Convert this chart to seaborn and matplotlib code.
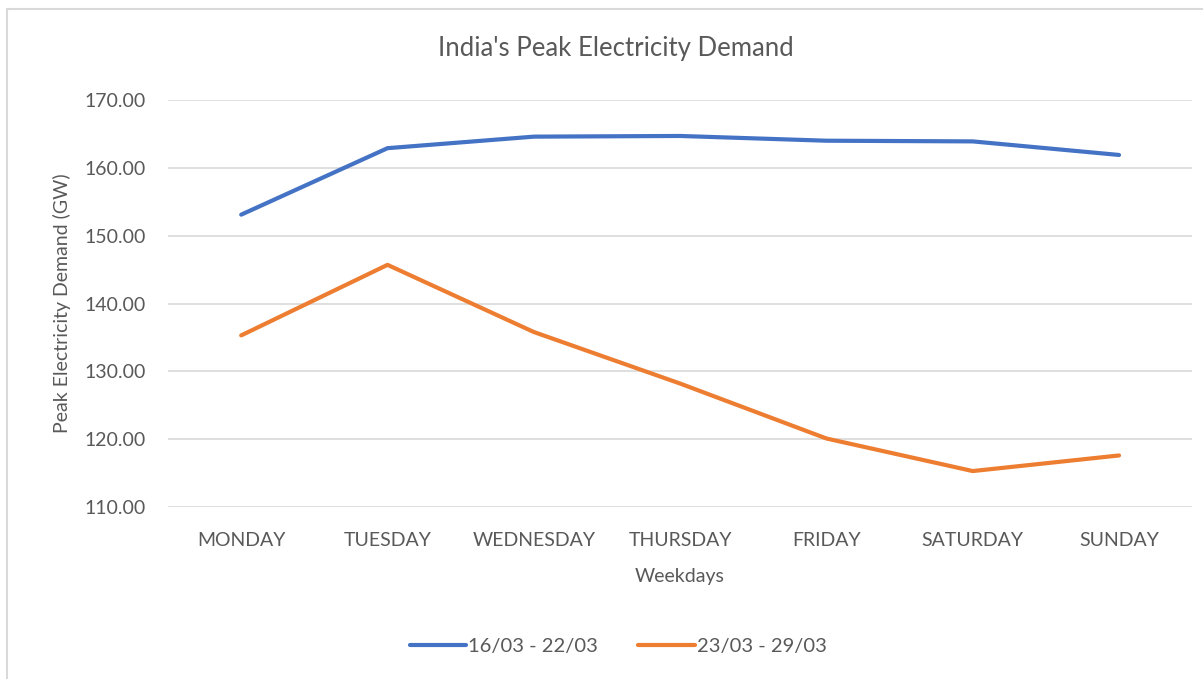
import matplotlib.pyplot as plt
import seaborn as sns
import pandas as pd
from matplotlib.patches import Rectangle

# Data
weekdays = ['MONDAY', 'TUESDAY', 'WEDNESDAY', 'THURSDAY', 'FRIDAY', 'SATURDAY', 'SUNDAY']
week_1 = [153.1, 162.9, 164.6, 164.7, 164.0, 163.9, 161.9]
week_2 = [135.3, 145.7, 135.8, 128.2, 120.1, 115.3, 117.6]
series_names = ['16/03 - 22/03', '23/03 - 29/03']
y_ticks = [110, 120, 130, 140, 150, 160, 170]

df = pd.DataFrame({
    'Weekdays': weekdays * 2,
    'Demand': week_1 + week_2,
    'Period': [series_names[0]] * len(weekdays) + [series_names[1]] * len(weekdays),
})

sns.set_style('white')
plt.rcParams['font.family'] = ['Lato', 'DejaVu Sans']
text_color = '#595959'
colors = ['#4472C4', '#ED7D31']

fig = plt.figure(figsize=(12.03, 6.79), dpi=100)
ax = fig.add_axes([0.1397, 0.2533, 0.8513, 0.5994])

sns.lineplot(data=df, x='Weekdays', y='Demand', hue='Period', sort=False,
             palette=colors, linewidth=3.0, ax=ax, legend=False)

ax.set_xlim(-0.5, len(weekdays) - 0.5)
ax.set_ylim(110, 170)
ax.set_yticks(y_ticks)
ax.set_yticklabels([f'{v:.2f}' for v in y_ticks])
ax.yaxis.grid(True, color='#d9d9d9', linewidth=1.2)
ax.set_axisbelow(True)
for s in ax.spines.values():
    s.set_visible(False)
ax.tick_params(axis='both', length=0, colors=text_color, labelsize=14)
ax.tick_params(axis='x', pad=18)
ax.tick_params(axis='y', pad=16)

ax.set_xlabel('Weekdays', color=text_color, fontsize=14, labelpad=14)
ax.set_ylabel('Peak Electricity Demand (GW)', color=text_color, fontsize=14, labelpad=10)
fig.text(0.512, 0.929, "India's Peak Electricity Demand", color=text_color,
         fontsize=18.5, ha='center', va='center')

# legend at the bottom, Excel style
handles = [plt.Line2D([], [], color=c, linewidth=3.0) for c in colors]
fig.legend(handles, series_names, loc='center', bbox_to_anchor=(0.5137, 0.0486), ncol=2,
           frameon=False, fontsize=14.5, labelcolor=text_color, handlelength=2.8,
           handletextpad=0.1, columnspacing=2.0)

# chart border
fig.patches.append(Rectangle((0.006, -0.01), 1.0, 0.997, transform=fig.transFigure,
                             fill=False, edgecolor='#d9d9d9', linewidth=1.5))

plt.savefig('out.png', dpi=100)
plt.close()
